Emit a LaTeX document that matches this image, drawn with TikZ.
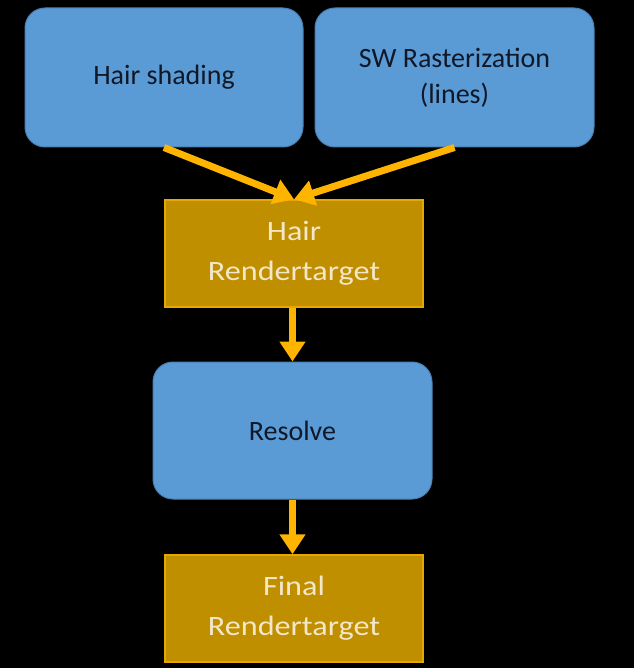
\documentclass[tikz,border=0pt]{standalone}
\usepackage{fontspec}
\setmainfont{Carlito}
\newfontfamily\widefont[FakeStretch=1.15]{Carlito}
\usetikzlibrary{arrows.meta}
\definecolor{boxblue}{HTML}{5B9BD5}
\definecolor{edgeblue}{HTML}{4A7EB0}
\definecolor{boxgold}{HTML}{BF8F00}
\definecolor{edgegold}{HTML}{E6A800}
\definecolor{arrowgold}{HTML}{FFB400}
\definecolor{inkdark}{HTML}{101828}
\definecolor{inklight}{HTML}{F3E7C9}

\begin{document}
\begin{tikzpicture}[x=1pt,y=-1pt,
   passbox/.style={draw=edgeblue,line width=1pt,fill=boxblue,rounded corners=20pt,
      text=inkdark,align=center,font=\fontsize{28}{36}\selectfont,inner sep=0pt},
   targetbox/.style={draw=edgegold,line width=1.5pt,fill=boxgold,
      text=inklight,align=center,font=\widefont\fontsize{28}{40}\selectfont,inner sep=0pt},
   flow/.style={draw=arrowgold,line width=7pt,-{Triangle[width=25pt,length=20pt]}}]
   \useasboundingbox[fill=black] (0,0) rectangle (634,668);
   \node[passbox,minimum width=278pt,minimum height=139pt] (shade)   at (164,77.5)  {Hair shading};
   \node[passbox,minimum width=279pt,minimum height=139pt] (swras)   at (454.5,77.5) {SW Rasterization\\(lines)};
   \node[targetbox,minimum width=258pt,minimum height=107pt] (hairrt) at (294,253.5) {Hair\\Rendertarget};
   \node[passbox,minimum width=279pt,minimum height=137pt] (resolve) at (292.5,430.5) {Resolve};
   \node[targetbox,minimum width=258pt,minimum height=107pt] (finalrt) at (294,608.5) {Final\\Rendertarget};
   \draw[flow] (shade.south)   -- (hairrt.north);
   \draw[flow] (swras.south)   -- (hairrt.north);
   \draw[flow] (resolve.north |- hairrt.south)  -- (resolve.north);
   \draw[flow] (resolve.south) -- (resolve.south |- finalrt.north);
\end{tikzpicture}
\end{document}
